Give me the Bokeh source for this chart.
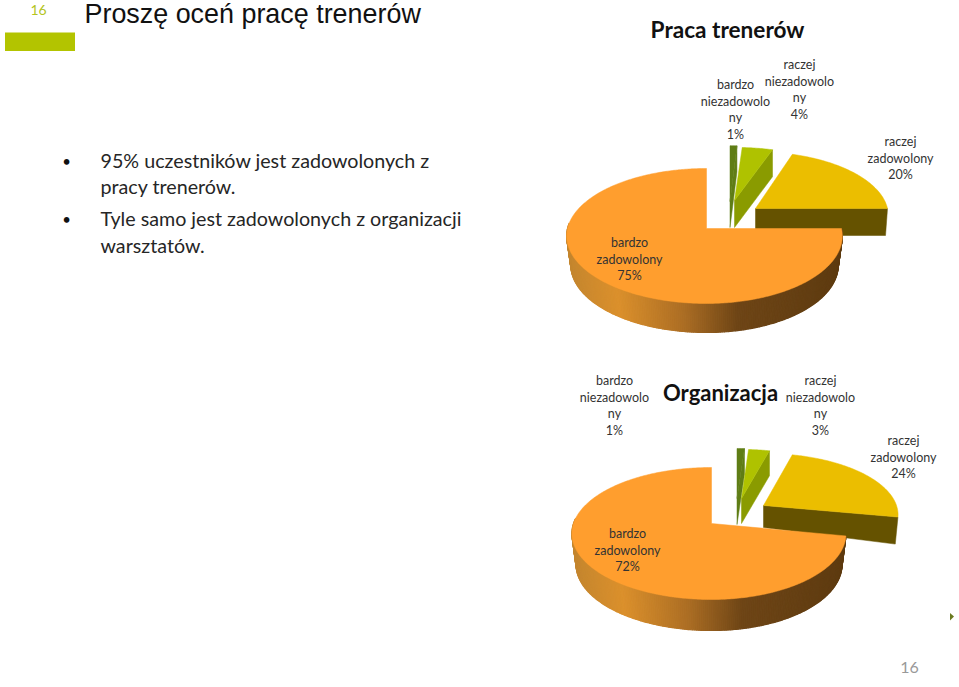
import math
from bokeh.plotting import figure
from bokeh.embed import file_html
from bokeh.resources import INLINE
from bokeh.core.properties import value

# --- data ---
categories = ["bardzo niezadowolony", "raczej niezadowolony", "raczej zadowolony", "bardzo zadowolony"]
praca_values = [1, 4, 20, 75]
organizacja_values = [1, 3, 24, 72]
slide_title = "Proszę oceń pracę trenerów"
bullet_lines = ["95% uczestników jest zadowolonych z", "pracy trenerów.",
                "Tyle samo jest zadowolonych z organizacji", "warsztatów."]
chart_titles = ["Praca trenerów", "Organizacja"]
page_number = "16"

# --- styles ---
TOP = ["#5F7D15", "#AFC200", "#EBBE00", "#FF9E2E"]
SIDE = ["#5F7D15", "#8A9B00", "#655200"]
RIM_STOPS = [(0.0, "#C4862F"), (0.18, "#DB902C"), (0.42, "#AC6E24"), (0.62, "#6E4516"), (1.0, "#5E3B10")]
LABEL_FONT = "Lato"

# per-slice drawing geometry: apex x, apex y, a, b(right), b(left), depth at apex, depth at corner, shrink
PIE1 = dict(k=0.111, slices=[
    (729.5, 201, 62, 123, 123, 26, 26, 1.0),
    (734, 200, 59, 136, 136, 27, 27, 1.0),
    (755, 208, 63, 132, 132, 27, 27, 0.985),
    (706, 228, 66.67, 135, 139, 29, 29, 0.97)])
PIE2 = dict(k=0.1515, slices=[
    (736.5, 498, 57.6, 137, 137, 26, 26, 1.0),
    (741, 498, 56.5, 129, 129, 25, 25, 1.0),
    (763, 505, 60, 133, 133, 22, 27, 0.98),
    (711, 523, 64.5, 133, 138, 31, 31, 0.97)])

p = figure(width=959, height=687, x_range=(0, 959), y_range=(687, 0), toolbar_location=None,
           output_backend="svg", min_border=0, margin=(0, 0, 0, 0), outline_line_color=None,
           background_fill_color="white", border_fill_color="white")
p.axis.visible = False
p.grid.visible = False


def hex_rgb(c):
    return tuple(int(c[i:i + 2], 16) for i in (1, 3, 5))


def rim_colour(f):
    for (f0, c0), (f1, c1) in zip(RIM_STOPS, RIM_STOPS[1:]):
        if f <= f1:
            t = (f - f0) / (f1 - f0)
            a, b = hex_rgb(c0), hex_rgb(c1)
            return "#%02x%02x%02x" % tuple(round(a[i] + (b[i] - a[i]) * t) for i in range(3))
    return RIM_STOPS[-1][1]


def project(theta, g, k):
    ax, ay, a, br, bl, *_ = g
    X, Y = math.sin(math.radians(theta)), math.cos(math.radians(theta))
    w = 1 + k * Y
    return ax + (br if X >= 0 else bl) * X / w, ay - a * Y / w


def draw_pie(values, spec):
    k = spec["k"]
    edges = [0]
    for v in values:
        edges.append(edges[-1] + v * 3.6)
    for i in range(4):
        g = spec["slices"][i]
        t0, t1 = edges[i], edges[i + 1]
        n = max(2, int((t1 - t0) / 0.75) + 1)
        arc = [project(t0 + (t1 - t0) * j / n, g, k) for j in range(n + 1)]
        ax, ay, *_, da, dc, sh = g
        if i < 3:
            cx, cy = arc[-1]
            bx = ax + (cx - ax) * sh
            p.patch([ax, cx, bx, ax], [ay, cy, cy + dc, ay + da], fill_color=SIDE[i], line_color=SIDE[i], line_width=0.5)
        else:
            xs_all = [a[0] for a in arc]
            lo, hi = min(xs_all), max(xs_all)
            qx, qy, qc = [], [], []
            for (x0, y0), (x1, y1) in zip(arc, arc[1:]):
                if y0 < ay - 5 and y1 < ay - 5:
                    continue
                bx0, bx1 = ax + (x0 - ax) * sh, ax + (x1 - ax) * sh
                qx.append([x0, x1, bx1, bx0])
                qy.append([y0, y1, y1 + da, y0 + da])
                qc.append(rim_colour(((x0 + x1) / 2 - lo) / (hi - lo)))
            p.patches(qx, qy, fill_color=qc, line_color=qc, line_width=1.2)
        p.patch([ax] + [a[0] for a in arc], [ay] + [a[1] for a in arc],
                fill_color=TOP[i], line_color=TOP[i], line_width=0.5)


def label(x, y, lines, size=12.5, colour="#333333", font=LABEL_FONT, style="normal", align="center", step=16.5):
    p.text([x] * len(lines), [y + j * step for j in range(len(lines))], text=lines,
           text_font=value(font), text_font_size=f"{size}px", text_font_style=style,
           text_color=colour, text_align=align, text_baseline="middle")


def wrapped(cat, v):
    first, second = cat.split(" ")
    if second == "niezadowolony":
        return [first, "niezadowolo", "ny", f"{v}%"]
    return [first, second, f"{v}%"]


draw_pie(praca_values, PIE1)
draw_pie(organizacja_values, PIE2)

# slide furniture
p.quad(left=[4.5], right=[74.5], top=[32], bottom=[50.5], fill_color="#B3C400", line_color=None)
label(38, 9, [page_number], size=14, colour="#B3C41E")
label(84, 13, [slide_title], size=26.9, colour="#111111", font="Liberation Sans", align="left")
p.text([100] * 4, [160, 186, 218, 245], text=bullet_lines, text_font=value(LABEL_FONT), text_font_size="19.7px",
       text_color="#262626", text_align="left", text_baseline="middle")
label(66, 160, ["•"], size=15, colour="#111111")
label(66, 218, ["•"], size=15, colour="#111111")
label(727, 29, [chart_titles[0]], size=22.6, colour="#111111", style="bold")
label(720, 392, [chart_titles[1]], size=22, colour="#111111", style="bold")
label(909, 667, [page_number], size=16, colour="#999999")
p.patch([949.5, 953.5, 949.5], [612.5, 616, 620], fill_color="#6B7A20", line_color=None)

# data labels
pos1 = [(735, 84), (799, 64), (900, 141), (629, 242)]
pos2 = [(614, 380), (820, 380), (903, 440), (627, 533)]
for vals, pos in ((praca_values, pos1), (organizacja_values, pos2)):
    for c, v, (x, y) in zip(categories, vals, pos):
        label(x, y, wrapped(c, v))

open("out.html", "w").write(file_html(p, INLINE))
